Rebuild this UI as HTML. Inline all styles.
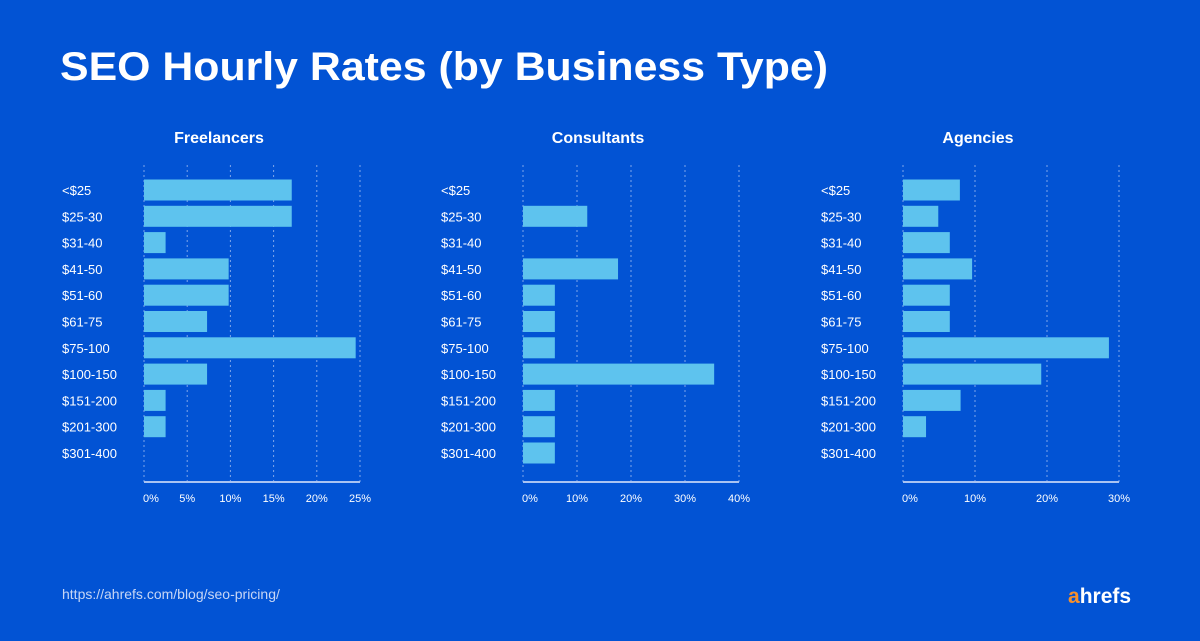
<!DOCTYPE html>
<html><head><meta charset="utf-8"><style>
html,body{margin:0;padding:0;background:#0253d4;}
svg{display:block;font-family:"Liberation Sans",sans-serif;}
</style></head><body>
<svg id="c" width="1200" height="641" viewBox="0 0 1200 641">
<rect width="1200" height="641" fill="#0253d4"/>
<text x="60" y="80" fill="#fff" font-size="40" font-weight="bold" textLength="768" lengthAdjust="spacingAndGlyphs">SEO Hourly Rates (by Business Type)</text>
<text x="62" y="599" fill="#c7d6f5" font-size="14">https://ahrefs.com/blog/seo-pricing/</text>
<text x="1068" y="603" fill="#fff" font-size="21" font-weight="bold"><tspan fill="#f7902c">a</tspan>hrefs</text>
</svg>
<script>
const categories=["<$25","$25-30","$31-40","$41-50","$51-60","$61-75","$75-100","$100-150","$151-200","$201-300","$301-400"];
const freelancers=[17.1,17.1,2.5,9.8,9.8,7.3,24.5,7.3,2.5,2.5,0];
const consultants=[0,11.9,0,17.6,5.9,5.9,5.9,35.4,5.9,5.9,5.9];
const agencies=[7.9,4.9,6.5,9.6,6.5,6.5,28.6,19.2,8,3.2,0];
const freelancerTicks=[0,5,10,15,20,25];
const consultantTicks=[0,10,20,30,40];
const agencyTicks=[0,10,20,30];
const panelTitles=["Freelancers","Consultants","Agencies"];
const NS="http://www.w3.org/2000/svg";
const svg=document.getElementById('c');
function mk(tag,attrs,parent){const e=document.createElementNS(NS,tag);for(const k in attrs)e.setAttribute(k,attrs[k]);(parent||svg).appendChild(e);return e;}
function panel(idx,labelX,x0,values,ticks,slug){
  const x1=x0+216, max=ticks[ticks.length-1];
  const xs=v=>x0+(v/max)*(x1-x0);
  const ys=i=>190+i*26.3;
  const g=mk('g',{});
  
  
  const t=mk('text',{x:(labelX+x1)/2+8,y:143,fill:'#fff','font-size':16,'font-weight':'bold','text-anchor':'middle'},g);
  t.textContent=panelTitles[idx];
  
  
  ticks.forEach(tk=>{
    const l=mk('line',{x1:xs(tk),x2:xs(tk),y1:165,y2:482,stroke:'#7fa6ea','stroke-width':1,'stroke-dasharray':'2,3'},g);
    
    
    const tt=mk('text',{x:xs(tk),y:502,fill:'#fff','font-size':11,'text-anchor':tk===0?'start':'middle'},g);
    if(tk===0)tt.setAttribute('x',xs(tk)-1);
    tt.textContent=tk+'%';
    
    
  });
  const ax=mk('line',{x1:x0,x2:x1,y1:482,y2:482,stroke:'#a9c3f2','stroke-width':2},g);
  
  
  categories.forEach((c,i)=>{
    const lt=mk('text',{x:labelX,y:ys(i)+5,fill:'#fff','font-size':13},g);
    lt.textContent=c;
    
    
    if(values[i]>0){
      const r=mk('rect',{x:x0,y:ys(i)-10.5,width:xs(values[i])-x0,height:21,fill:'#5ec3ee'},g);
      
      
    }
  });
}
panel(0,62,144,freelancers,freelancerTicks,'freelancers');
panel(1,441,523,consultants,consultantTicks,'consultants');
panel(2,821,903,agencies,agencyTicks,'agencies');
</script>
</body></html>
